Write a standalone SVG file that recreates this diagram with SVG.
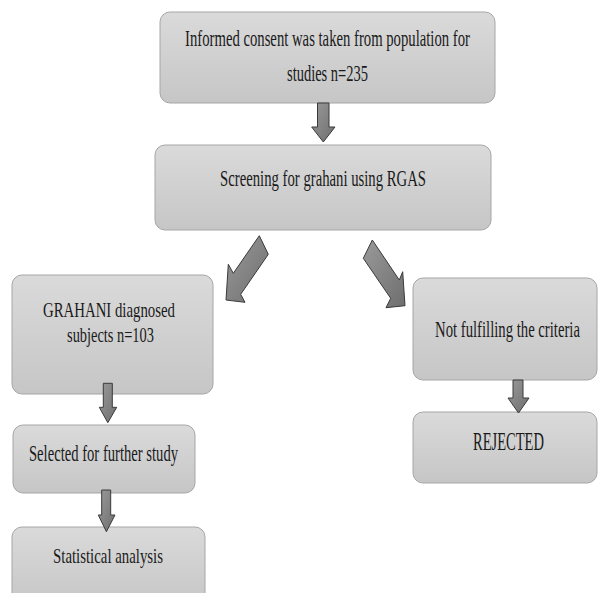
<svg xmlns="http://www.w3.org/2000/svg" width="598" height="593" viewBox="0 0 598 593">
<defs>
<linearGradient id="boxg" x1="0" y1="0" x2="0" y2="1">
<stop offset="0" stop-color="#dadada"/>
<stop offset="1" stop-color="#c6c6c6"/>
</linearGradient>
<linearGradient id="arrg" x1="0" y1="0" x2="1" y2="1">
<stop offset="0" stop-color="#9a9a9a"/>
<stop offset="1" stop-color="#6e6e6e"/>
</linearGradient>
<style>
.box{fill:url(#boxg);stroke:#a6a6a6;stroke-width:1}
.t{font-family:"Liberation Serif","Times New Roman","DejaVu Serif",serif;fill:#1a1a1a;text-anchor:middle}
.arr{fill:url(#arrg);stroke:#3a3a3a;stroke-width:1;stroke-linejoin:miter}
</style>
</defs>
<rect width="598" height="593" fill="#ffffff"/>
<g id="n1">
<rect class="box" x="160" y="12" width="335" height="91" rx="10"/>
<text class="t" font-family="Liberation Serif, serif" transform="translate(327.5,46) scale(0.639,1)" font-size="23">Informed consent was taken from population for</text>
<text class="t" font-family="Liberation Serif, serif" transform="translate(327.5,81) scale(0.63,1)" font-size="23">studies n=235</text>
</g>
<g id="n2">
<rect class="box" x="155" y="145" width="336" height="85" rx="10"/>
<text class="t" font-family="Liberation Serif, serif" transform="translate(323,186) scale(0.64,1)" font-size="23">Screening for grahani using RGAS</text>
</g>
<g id="n3">
<rect class="box" x="12" y="275" width="201" height="119" rx="10"/>
<text class="t" font-family="Liberation Serif, serif" transform="translate(109,317) scale(0.706,1)" font-size="21">GRAHANI diagnosed</text>
<text class="t" font-family="Liberation Serif, serif" transform="translate(110.5,342) scale(0.686,1)" font-size="21">subjects n=103</text>
</g>
<g id="n4">
<rect class="box" x="13" y="425" width="182" height="68" rx="10"/>
<text class="t" font-family="Liberation Serif, serif" transform="translate(103.5,461) scale(0.636,1)" font-size="23">Selected for further study</text>
</g>
<g id="n5">
<rect class="box" x="12" y="527" width="193" height="80" rx="10"/>
<text class="t" font-family="Liberation Serif, serif" transform="translate(108,563) scale(0.674,1)" font-size="22">Statistical analysis</text>
</g>
<g id="n6">
<rect class="box" x="413" y="278" width="184" height="102" rx="10"/>
<text class="t" font-family="Liberation Serif, serif" transform="translate(507.5,337) scale(0.613,1)" font-size="24">Not fulfilling the criteria</text>
</g>
<g id="n7">
<rect class="box" x="413" y="412" width="184" height="71" rx="10"/>
<text class="t" font-family="Liberation Serif, serif" transform="translate(508.5,450) scale(0.58,1)" font-size="25">REJECTED</text>
</g>
<g id="connectors">
<polygon class="arr" points="317.5,103 329,103 329,127 335,127 323.3,142 311.7,127 317.5,127"/>
<polygon class="arr" points="259.3,235.7 268.3,254.3 240.7,294.3 245,302.3 226,300 228.3,264.3 233.3,273.3"/>
<polygon class="arr" points="372.3,240 399.3,280 402.7,271.7 405,305.7 386,307.7 390.7,298.3 363.3,258.3"/>
<polygon class="arr" points="103.3,383.3 112.3,383.3 112.3,407.3 116.7,407.3 107.8,422.7 99.3,407.3 103.3,407.3"/>
<polygon class="arr" points="101.7,490 110.7,490 110.7,515 115,515 106.4,531.7 98.3,515 101.7,515"/>
<polygon class="arr" points="513,380 523,380 523,398 529,398 518.5,413 508,398 513,398"/>
</g>
</svg>
